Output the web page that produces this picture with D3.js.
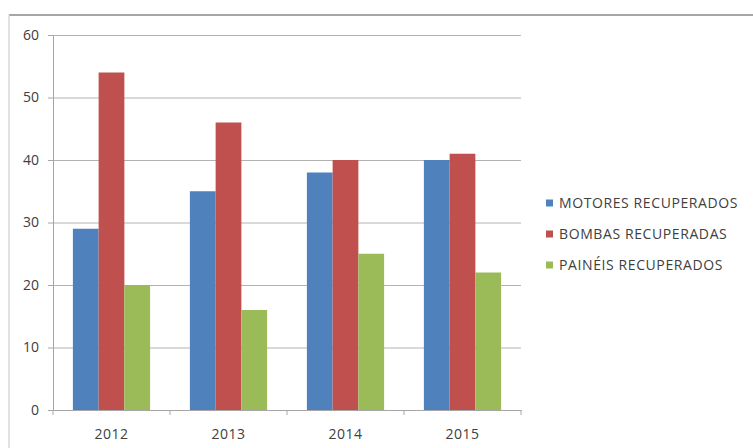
<!DOCTYPE html>
<html>
<head>
<meta charset="utf-8">
<script src="https://cdn.jsdelivr.net/npm/d3@7"></script>
<style>
  body { margin: 0; background: #fff; }
  svg { display: block; font-family: "Open Sans", sans-serif; }
</style>
</head>
<body>
<div id="chart"></div>
<script>
const years = ["2012", "2013", "2014", "2015"];
const seriesNames = ["MOTORES RECUPERADOS", "BOMBAS RECUPERADAS", "PAINÉIS RECUPERADOS"];
const motores = [29, 35, 38, 40];
const bombas = [54, 46, 40, 41];
const paineis = [20, 16, 25, 22];
const yTicks = [0, 10, 20, 30, 40, 50, 60];
const colors = ["#4F81BD", "#C0504D", "#9BBB59"];

const W = 753, H = 448;
const margin = { top: 35, right: 232, bottom: 38, left: 53 };
const width = W - margin.left - margin.right;
const height = H - margin.top - margin.bottom;

const svg = d3.select("#chart")
    .append("svg")
    .attr("width", W)
    .attr("height", H);

// outer chart frame (only top and left edge are visible)
svg.append("line").attr("x1", 9).attr("x2", W).attr("y1", 15).attr("y2", 15)
    .attr("stroke", "#a6a6a6").attr("stroke-width", 2);
svg.append("line").attr("x1", 9).attr("x2", 9).attr("y1", 15).attr("y2", H)
    .attr("stroke", "#d9d9d9").attr("stroke-width", 1.5);

const g = svg.append("g").attr("transform", `translate(${margin.left},${margin.top})`);

const y = d3.scaleLinear().domain([0, 60]).range([height, 0]);

const x0 = d3.scaleBand().domain(years).range([0, width]).padding(0);
const gap = x0.bandwidth() * 0.17;
const x1 = d3.scaleBand().domain(d3.range(3)).range([gap, x0.bandwidth() - gap]).padding(0);

// grid lines
g.append("g")
    .call(d3.axisLeft(y).tickValues(yTicks).tickSize(-width).tickFormat(""))
    .call(s => s.select(".domain").remove())
    .selectAll("line")
    .attr("stroke", "#b3b3b3");

// Y axis
g.append("g")
    .call(d3.axisLeft(y).tickValues(yTicks).tickSize(5).tickPadding(9).tickSizeOuter(0))
    .call(s => s.select(".domain").attr("stroke", "#a6a6a6"))
    .call(s => s.selectAll(".tick line").attr("stroke", "#a6a6a6"))
    .selectAll("text")
    .attr("fill", "#404040")
    .attr("font-size", "14px")
    .attr("font-family", "Open Sans, sans-serif");

// bars
const data = years.map((yr, i) => ({ year: yr, values: [motores[i], bombas[i], paineis[i]] }));
const groups = g.selectAll(".grp").data(data).join("g")
    .attr("transform", d => `translate(${x0(d.year)},0)`);
groups.selectAll("rect").data(d => d.values.map((v, k) => ({ v, k }))).join("rect")
    .attr("x", d => x1(d.k))
    .attr("y", d => y(d.v))
    .attr("width", x1.bandwidth())
    .attr("height", d => y(0) - y(d.v))
    .attr("fill", d => colors[d.k]);

// X axis
const xAxis = g.append("g")
    .attr("transform", `translate(0,${height})`);
xAxis.call(d3.axisBottom(x0).tickSize(0).tickPadding(19).tickSizeOuter(0))
    .call(s => s.select(".domain").attr("stroke", "#a6a6a6"))
    .selectAll("text")
    .attr("fill", "#404040")
    .attr("font-size", "14px")
    .attr("letter-spacing", "0.5px")
    .attr("font-family", "Open Sans, sans-serif");
// category boundary tick marks
xAxis.selectAll(".bound").data(d3.range(years.length + 1)).join("line")
    .attr("x1", i => i * x0.step()).attr("x2", i => i * x0.step())
    .attr("y1", 0).attr("y2", 5)
    .attr("stroke", "#a6a6a6");

// legend
const legend = svg.append("g").attr("transform", "translate(546,203)");
seriesNames.forEach((name, i) => {
    const row = legend.append("g").attr("transform", `translate(0,${i * 31})`);
    row.append("rect").attr("x", 0).attr("y", -3.5).attr("width", 7).attr("height", 7).attr("fill", colors[i]);
    row.append("text")
        .attr("x", 13)
        .attr("y", 0)
        .attr("dy", "0.35em")
        .attr("fill", "#404040")
        .attr("font-size", "14px")
        .attr("letter-spacing", "0.6px")
        .attr("font-family", "Open Sans, sans-serif")
        .text(name);
});
</script>
</body>
</html>
